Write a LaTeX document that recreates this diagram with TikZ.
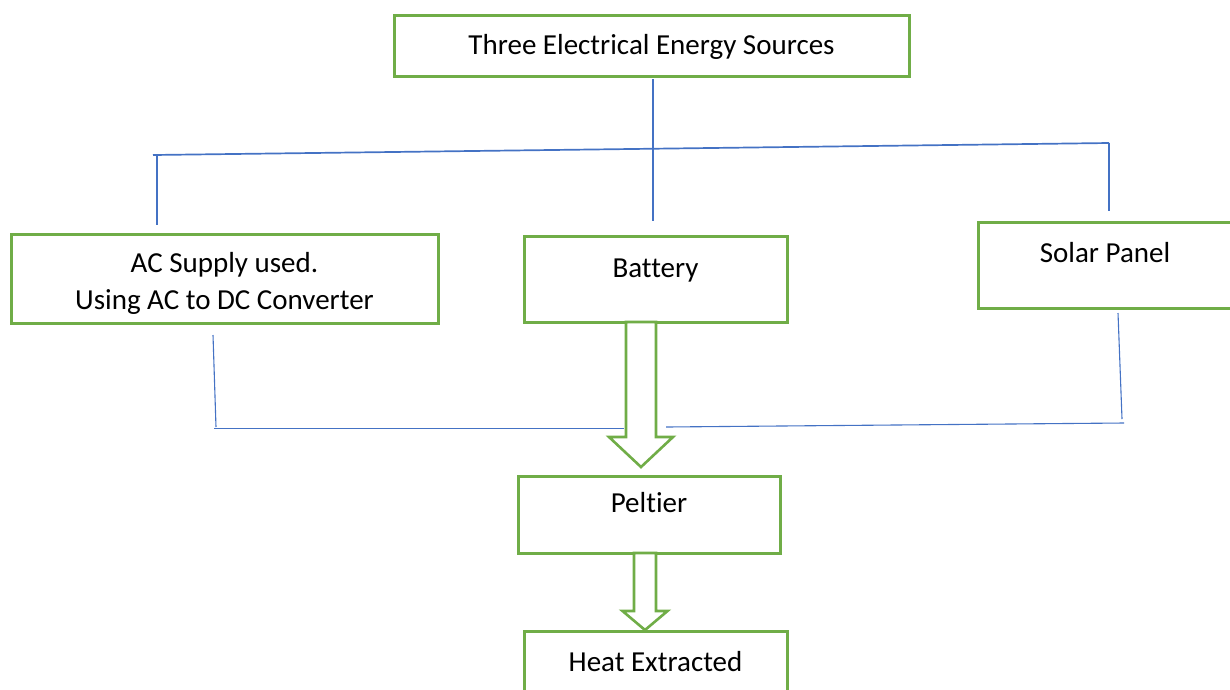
\documentclass[tikz,border=0pt]{standalone}
\usepackage{fontspec}
\setmainfont{Carlito}[Ligatures=NoCommon]
\usepackage{tikz}
\usetikzlibrary{calc}
\definecolor{boxgreen}{HTML}{70AD47}
\definecolor{wireblue}{HTML}{4472C4}

\begin{document}
\begin{tikzpicture}[
    x=1pt, y=-1pt,
    font=\fontsize{29}{37}\selectfont,
    box/.style={draw=boxgreen, line width=3pt, fill=white, inner sep=0pt, align=center},
    wire/.style={draw=wireblue, line width=1.7pt},
    thinwire/.style={draw=wireblue, line width=1.1pt},
    blockarr/.style={draw=boxgreen, line width=2.6pt, fill=white, line join=miter},
  ]
  \useasboundingbox (0,0) rectangle (1230,689);
  \clip (0,0) rectangle (1230,689);

  % ===== TOP: the three sources =====
  \node[box, minimum width=515pt, text height=39pt, text depth=22pt] (sources) at (651.5,45.5)
      {Three Electrical Energy Sources};

  \node[box, minimum width=427pt, text height=75pt, text depth=14pt] (acsup) at (224.5,278.5)
      {AC Supply used.\\ Using AC to DC Converter};
  \node[box, minimum width=263pt, text height=41pt, text depth=45pt] (batt) at (655.5,279) {Battery};
  \node[box, minimum width=254pt, text height=40pt, text depth=46pt] (solar) at (1105,265) {Solar Panel};

  % Branch lines (they stop short of the boxes)
  \coordinate (stemtop) at (653,79);
  \coordinate (hubL) at (153,155);
  \coordinate (hubR) at (1109,143);
  \coordinate (dropL) at (157,225);
  \coordinate (dropM) at (653,221);
  \coordinate (dropR) at (1109,211);

  \draw[wire] (stemtop) -- (dropM);
  \draw[wire] (hubL) -- (hubR);
  \draw[wire] (hubL -| dropL) -- (dropL);
  \draw[wire] (hubR) -- (dropR);

  % ===== BOTTOM: into the Peltier =====
  \node[box, minimum width=262pt, text height=36pt, text depth=41pt] (pelt) at (649,514.5) {Peltier};
  \node[box, minimum width=263pt, text height=40pt, text depth=29pt] (heat) at (655.5,665.5) {Heat Extracted};

  % Feed lines from the AC supply and the solar panel
  \coordinate (acdrop) at (213,335);
  \coordinate (accorner) at (216,427);
  \coordinate (acend) at (624,428.5);
  \coordinate (soldrop) at (1118,313);
  \coordinate (solcorner) at (1122,419);
  \coordinate (solend) at (666,427);

  \draw[thinwire] (acdrop) -- (accorner);
  \draw[wire] (214,428.5) -- (acend);
  \draw[thinwire] (soldrop) -- (solcorner);
  \draw[thinwire] (1124,423) -- (solend);

  % Block arrows
  \coordinate (arrA) at (641,322);
  \coordinate (arrB) at (645,553);
  \draw[blockarr] ($(arrA)+(-15,0)$) -- ($(arrA)+(-15,115)$) -- ($(arrA)+(-32,115)$)
      -- ($(arrA)+(0,145)$) -- ($(arrA)+(32,115)$) -- ($(arrA)+(15,115)$) -- ($(arrA)+(15,0)$) -- cycle;
  \draw[blockarr] ($(arrB)+(-11,0)$) -- ($(arrB)+(-11,58)$) -- ($(arrB)+(-22.5,58)$)
      -- ($(arrB)+(0,77)$) -- ($(arrB)+(22.5,58)$) -- ($(arrB)+(11,58)$) -- ($(arrB)+(11,0)$) -- cycle;

\end{tikzpicture}
\end{document}
